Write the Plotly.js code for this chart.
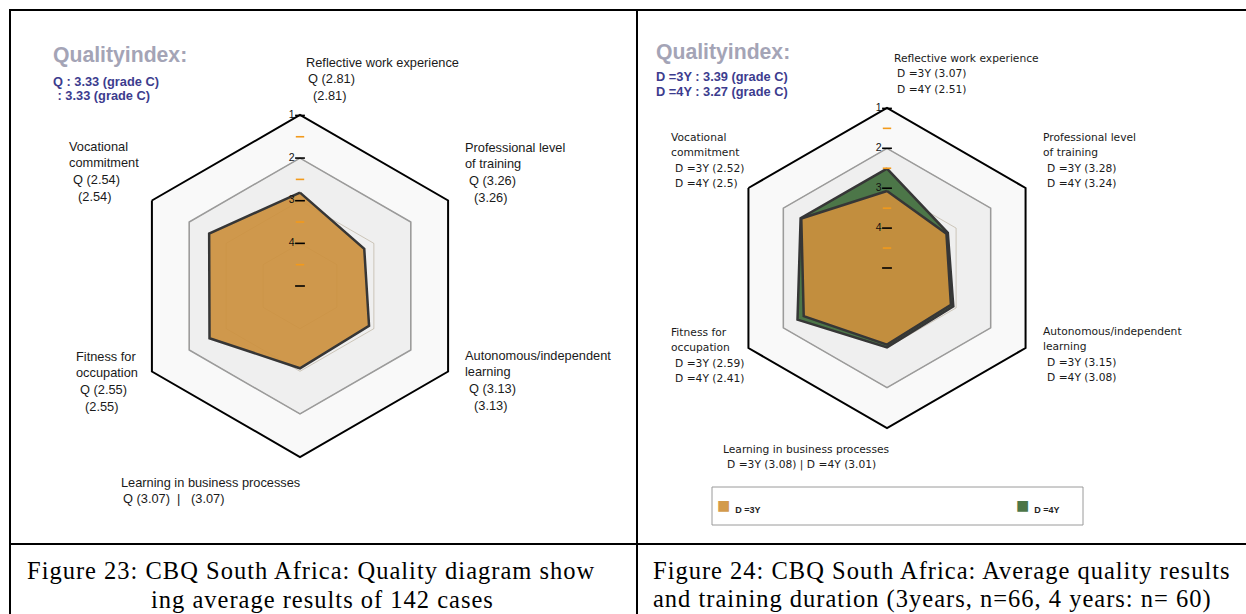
<!DOCTYPE html>
<html>
<head>
<meta charset="utf-8">
<script src="https://cdn.plot.ly/plotly-3.0.1.min.js"></script>
<style>html,body{margin:0;padding:0;background:#fff;}#chart{width:1246px;height:614px;}</style>
</head>
<body>
<div id="chart"></div>
<script>
// ---------- data ----------
const categories = ['Reflective work experience','Professional level of training','Autonomous/independent learning','Learning in business processes','Fitness for occupation','Vocational commitment'];
const categoryLines = [['Reflective work experience'],['Professional level','of training'],['Autonomous/independent','learning'],['Learning in business processes'],['Fitness for','occupation'],['Vocational','commitment']];
const qValues  = [2.81, 3.26, 3.13, 3.07, 2.55, 2.54];
const d3Values = [3.07, 3.28, 3.15, 3.08, 2.59, 2.52];
const d4Values = [2.51, 3.24, 3.08, 3.01, 2.41, 2.50];
const scaleTicks = [1, 2, 3, 4, 5];
const scaleTickLabels = ['1', '2', '3', '4', ''];
const minorTicks = [1.5, 2.5, 3.5, 4.5];
const qIndex = 3.33, d3Index = 3.39, d4Index = 3.27, grade = 'C';
const seriesNames = ['D =3Y', 'D =4Y'];
const captionLeft = ['Figure 23: CBQ South Africa: Quality diagram show', 'ing average results of 142 cases'];
const captionRight = ['Figure 24: CBQ South Africa: Average quality results', 'and training duration (3years, n=66, 4 years: n= 60)'];

// ---------- layout helpers ----------
const W = 1246, H = 614;
const px = x => x / W, py = y => 1 - y / H;
const close = a => a.concat([a[0]]);
const fmt = v => String(v);

const ORANGE = 'rgba(204,144,62,0.92)';
const ORANGE_SOLID = '#d39a4c';
const GREEN = 'rgba(76,118,72,1)';
const OUTLINE = '#363636';

function axisTraces(sub) {
  return [
    {type:'scatterpolar', subplot:sub, r: close(categories.map(()=>2)), theta: close(categories),
     mode:'lines', line:{color:'#9b9b9b', width:1.5}, fill:'toself', fillcolor:'rgba(0,0,0,0.04)', hoverinfo:'skip', showlegend:false}
  ];
}
function tickTraces(sub) {
  return [
    {type:'scatterpolar', subplot:sub, r: scaleTicks, theta: scaleTicks.map(()=>categories[0]), mode:'markers+text',
     text: scaleTickLabels, textposition:'middle left', textfont:{family:'Liberation Sans, Arial', size:10.5, color:'#111'},
     marker:{symbol:'line-ew', size:7, line:{color:'#000', width:1.6}}, hoverinfo:'skip', showlegend:false, cliponaxis:false},
    {type:'scatterpolar', subplot:sub, r: minorTicks, theta: minorTicks.map(()=>categories[0]), mode:'markers',
     marker:{symbol:'line-ew', size:6, line:{color:'#f29a1c', width:1.6}}, hoverinfo:'skip', showlegend:false, cliponaxis:false}
  ];
}

const traces = [];
traces.push(...axisTraces('polar'));
traces.push({type:'scatterpolar', subplot:'polar', r: close(qValues), theta: close(categories), mode:'lines',
  fill:'toself', fillcolor:ORANGE, line:{color:OUTLINE, width:2.5}, name:'Q', showlegend:false});
traces.push(...tickTraces('polar'));

traces.push(...axisTraces('polar2'));
traces.push({type:'scatterpolar', subplot:'polar2', r: close(d4Values), theta: close(categories), mode:'lines',
  fill:'toself', fillcolor:GREEN, line:{color:OUTLINE, width:2.5}, name:seriesNames[1], showlegend:false});
traces.push({type:'scatterpolar', subplot:'polar2', r: close(d3Values), theta: close(categories), mode:'lines',
  fill:'toself', fillcolor:ORANGE, line:{color:OUTLINE, width:2.5}, name:seriesNames[0], showlegend:false});
traces.push(...tickTraces('polar2'));

function polarLayout(x0, x1, y0, y1) {
  return {
    domain:{x:[px(x0), px(x1)], y:[py(y1), py(y0)]},
    bgcolor:'#f9f9f9',
    gridshape:'linear',
    radialaxis:{range:[5, 0.99], angle:90, tickvals:scaleTicks, showticklabels:false, ticks:'', showline:false,
      gridcolor:'rgba(110,80,30,0.26)', gridwidth:1, layer:'below traces'},
    angularaxis:{type:'category', categoryarray:categories, rotation:90, direction:'clockwise', showticklabels:false,
      ticks:'', showgrid:false, linecolor:'#000', linewidth:2, layer:'above traces'}
  };
}

const annotations = [];
function addText(text, x, y, font, extra) {
  annotations.push(Object.assign({text:text, x:px(x), y:py(y), xref:'paper', yref:'paper', xanchor:'left', yanchor:'middle',
    showarrow:false, font:font}, extra || {}));
}
const leftFont = {family:'Liberation Sans, Arial', size:12.8, color:'#1a1a1a'};
const rightFont = {family:'DejaVu Sans', size:10.7, color:'#1a1a1a'};

// label anchor positions: [nameX, firstLineY, valueX]
const leftPos = [[304,62,306],[463,147,467],[463,355,467],[119,482,121],[74,356,78],[67,146,71]];
const rightPos = [[892,58,895],[1041,137,1045],[1041,331,1045],[721,449,725],[669,332,673],[669,137,673]];
const stepL = 16.8, stepR = 15.6;

categories.forEach((c, i) => {
  const [nx, ny, vx] = leftPos[i];
  let y = ny;
  categoryLines[i].forEach(l => { addText(l, nx, y, leftFont); y += stepL; });
  if (i === 3) {
    addText('Q (' + fmt(qValues[i]) + ')  |   (' + fmt(qValues[i]) + ')', vx, y, leftFont);
  } else {
    addText('Q (' + fmt(qValues[i]) + ')', vx, y, leftFont); y += stepL;
    addText('(' + fmt(qValues[i]) + ')', vx + 5, y, leftFont);
  }
  const [rx, ry, rvx] = rightPos[i];
  y = ry;
  categoryLines[i].forEach(l => { addText(l, rx, y, rightFont); y += stepR; });
  if (i === 3) {
    addText(seriesNames[0] + ' (' + fmt(d3Values[i]) + ') | ' + seriesNames[1] + ' (' + fmt(d4Values[i]) + ')', rvx, y, rightFont);
  } else {
    addText(seriesNames[0] + ' (' + fmt(d3Values[i]) + ')', rvx, y, rightFont); y += stepR;
    addText(seriesNames[1] + ' (' + fmt(d4Values[i]) + ')', rvx, y, rightFont);
  }
});

const qiTitleFont = {family:'Liberation Sans, Arial', size:21.2, color:'#a4a4b6'};
const qiFont = {family:'Liberation Sans, Arial', size:12.8, color:'#3c3c8e'};
addText('<b>Qualityindex:</b>', 51, 55, qiTitleFont);
addText('<b>Q : ' + qIndex.toFixed(2) + ' (grade ' + grade + ')</b>', 51, 81, qiFont);
addText('<b> : ' + qIndex.toFixed(2) + ' (grade ' + grade + ')</b>', 52, 96, qiFont);
addText('<b>Qualityindex:</b>', 654, 52, qiTitleFont);
addText('<b>' + seriesNames[0] + ' : ' + d3Index.toFixed(2) + ' (grade ' + grade + ')</b>', 654, 76, qiFont);
addText('<b>' + seriesNames[1] + ' : ' + d4Index.toFixed(2) + ' (grade ' + grade + ')</b>', 654, 91, qiFont);

// legend (inside a framed box, as in the reference)
const legFont = {family:'Liberation Sans, Arial', size:9, color:'#222'};
addText('<span style="color:' + ORANGE_SOLID + ';font-size:22px">■</span>  <b>' + seriesNames[0] + '</b>', 715, 505, legFont);
addText('<span style="color:' + GREEN + ';font-size:22px">■</span>  <b>' + seriesNames[1] + '</b>', 1014, 505, legFont);

const capFont = {family:'Liberation Serif, Times New Roman', size:24.5, color:'#000'};
const sp = t => '<span style="letter-spacing:1px">' + t + '</span>';
addText(sp(captionLeft[0]), 311, 570, capFont, {xanchor:'center'});
addText(sp(captionLeft[1]), 322, 599, capFont, {xanchor:'center'});
addText(sp(captionRight[0]), 651, 570, capFont);
addText(sp(captionRight[1]), 651, 599, capFont);

const shapes = [
  {type:'line', xref:'paper', yref:'paper', x0:px(10), x1:px(1246), y0:py(10), y1:py(10), line:{color:'#000', width:2}},
  {type:'line', xref:'paper', yref:'paper', x0:px(10), x1:px(10), y0:py(9), y1:py(614), line:{color:'#000', width:2}},
  {type:'line', xref:'paper', yref:'paper', x0:px(637), x1:px(637), y0:py(10), y1:py(614), line:{color:'#000', width:2}},
  {type:'line', xref:'paper', yref:'paper', x0:px(10), x1:px(1246), y0:py(544), y1:py(544), line:{color:'#000', width:2}},
  {type:'rect', xref:'paper', yref:'paper', x0:px(712), x1:px(1083), y0:py(525), y1:py(487), line:{color:'#9a9a9a', width:1}}
];

const layout = {
  width:W, height:H, margin:{l:0, r:0, t:0, b:0},
  paper_bgcolor:'#fff', plot_bgcolor:'#fff',
  polar: polarLayout(129, 471, 115, 457),
  polar2: polarLayout(727, 1047, 108, 428),
  showlegend:false,
  annotations: annotations,
  shapes: shapes
};

Plotly.newPlot('chart', traces, layout, {staticPlot:true, displayModeBar:false});
</script>
</body>
</html>
